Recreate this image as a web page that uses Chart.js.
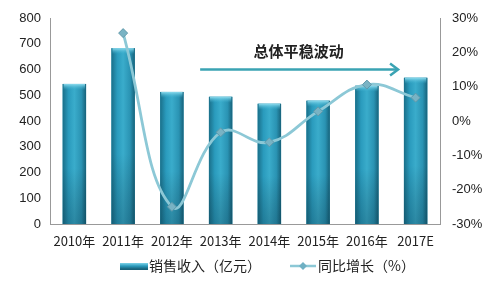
<!DOCTYPE html>
<html><head><meta charset="utf-8">
<script src="https://cdn.jsdelivr.net/npm/chart.js@4/dist/chart.umd.min.js"></script>
<style>html,body{margin:0;padding:0;background:#fff}#w{width:497px;height:289px}</style>
</head><body><div id="w"><canvas id="c" width="497" height="289"></canvas></div>
<script>
const categories = ['2010年','2011年','2012年','2013年','2014年','2015年','2016年','2017E'];
const revenue = [544, 683, 513, 494, 467, 479, 537, 568];
const growth = [null, 25.6, -25.0, -3.3, -6.2, 2.8, 10.6, 6.8];
const revenueLabel = '销售收入（亿元）';
const growthLabel = '同比增长（%）';
const leftTicks = [0,100,200,300,400,500,600,700,800];
const rightTicks = [-30,-20,-10,0,10,20,30];
const noteText = '总体平稳波动';

const FONT = "'Liberation Sans','Noto Sans CJK SC',sans-serif";
const CJK = "'Noto Sans CJK SC','Liberation Sans',sans-serif";

const barStyle = {
  id: 'barStyle',
  afterDatasetDraw(chart, args) {
    if (args.index !== 0) return;
    const ctx = chart.ctx;
    args.meta.data.forEach(el => {
      const x0 = el.x - el.width/2, x1 = el.x + el.width/2, top = el.y, bot = el.base;
      const g = ctx.createLinearGradient(x0, 0, x1, 0);
      g.addColorStop(0, '#1a6f89');
      g.addColorStop(0.25, '#2a9bbd');
      g.addColorStop(0.5, '#3aaccb');
      g.addColorStop(0.8, '#2a93b3');
      g.addColorStop(1, '#17627a');
      ctx.save();
      ctx.fillStyle = g;
      ctx.fillRect(x0, top, x1 - x0, bot - top);
      const v = ctx.createLinearGradient(0, top, 0, bot);
      v.addColorStop(0, 'rgba(0,0,0,0)');
      v.addColorStop(0.6, 'rgba(0,0,0,0)');
      v.addColorStop(1, 'rgba(0,30,45,0.25)');
      ctx.fillStyle = v;
      ctx.fillRect(x0, top, x1 - x0, bot - top);
      const cap = ctx.createLinearGradient(0, top, 0, top + 6);
      cap.addColorStop(0, '#8fdcee');
      cap.addColorStop(1, 'rgba(60,176,207,0)');
      ctx.fillStyle = cap;
      ctx.fillRect(x0 + 1, top, x1 - x0 - 2, 6);
      ctx.restore();
    });
  }
};

const annot = {
  id: 'annot',
  afterDraw(chart) {
    const ctx = chart.ctx, xs = chart.scales.x, ys = chart.scales.y;
    const xa = xs.getPixelForValue(2.58), xb = xs.getPixelForValue(6.64);
    const ya = ys.getPixelForValue(600);
    ctx.save();
    ctx.strokeStyle = '#3aa3b3';
    ctx.lineWidth = 2.5;
    ctx.beginPath(); ctx.moveTo(xa, ya); ctx.lineTo(xb, ya); ctx.stroke();
    ctx.beginPath(); ctx.moveTo(xb - 8, ya - 6); ctx.lineTo(xb, ya); ctx.lineTo(xb - 8, ya + 6); ctx.stroke();
    ctx.fillStyle = '#222';
    ctx.font = 'bold 15px ' + CJK;
    ctx.textAlign = 'center'; ctx.textBaseline = 'middle';
    ctx.fillText(noteText, xs.getPixelForValue(4.6), ys.getPixelForValue(670));
    // legend
    const ly = 266;
    ctx.font = '14px ' + CJK;
    ctx.textAlign = 'left';
    const bx = 120;
    const g = ctx.createLinearGradient(0, ly - 3, 0, ly + 3);
    g.addColorStop(0, '#7fd3e8'); g.addColorStop(0.5, '#2a9bbd'); g.addColorStop(1, '#17627a');
    ctx.fillStyle = g; ctx.fillRect(bx, ly - 3, 28, 7);
    ctx.fillStyle = '#222';
    ctx.fillText(chart.data.datasets[0].label, bx + 29, ly);
    const lx = 290;
    ctx.strokeStyle = '#8cc8d6'; ctx.lineWidth = 2.5;
    ctx.beginPath(); ctx.moveTo(lx, ly); ctx.lineTo(lx + 26, ly); ctx.stroke();
    ctx.fillStyle = '#6fb0c3';
    ctx.beginPath(); ctx.moveTo(lx + 13, ly - 4); ctx.lineTo(lx + 17, ly); ctx.lineTo(lx + 13, ly + 4); ctx.lineTo(lx + 9, ly); ctx.closePath(); ctx.fill();
    ctx.fillStyle = '#222';
    ctx.fillText(chart.data.datasets[1].label, lx + 28, ly);
    ctx.restore();
  }
};

new Chart(document.getElementById('c'), {
  data: {
    labels: categories,
    datasets: [
      { type: 'bar', label: revenueLabel, data: revenue, yAxisID: 'y', backgroundColor: '#2a9bbd', categoryPercentage: 1, barPercentage: 0.48, order: 2 },
      { type: 'line', label: growthLabel, data: growth, yAxisID: 'y1', borderColor: '#8cc8d6', borderWidth: 2.8, tension: 0.42, pointStyle: 'rectRot', pointRadius: 4.5, pointBackgroundColor: '#79b3c4', pointBorderColor: '#5f98aa', pointBorderWidth: 1, order: 1, spanGaps: false }
    ]
  },
  options: {
    responsive: false, animation: false,
    layout: { padding: { top: 18, bottom: 40, left: 0, right: 0 } },
    plugins: { legend: { display: false }, tooltip: { enabled: false } },
    scales: {
      x: {
        grid: { display: false, drawTicks: false },
        border: { color: '#999', width: 1 },
        ticks: { color: '#222', font: { family: CJK, size: 13 }, padding: 9, maxRotation: 0 },
        afterFit(s) { s.height = 25; }
      },
      y: {
        position: 'left', min: 0, max: 800,
        afterBuildTicks(s) { s.ticks = leftTicks.map(v => ({ value: v })); },
        grid: { display: false, drawTicks: false },
        border: { color: '#999', width: 1 },
        ticks: { color: '#222', font: { family: FONT, size: 13 }, padding: 9 },
        afterFit(s) { s.width = 50; }
      },
      y1: {
        position: 'right', min: -30, max: 30,
        afterBuildTicks(s) { s.ticks = rightTicks.map(v => ({ value: v })); },
        grid: { display: false, drawOnChartArea: false, drawTicks: true, tickLength: 6, color: '#999' },
        border: { color: '#999', width: 1 },
        ticks: { color: '#222', font: { family: FONT, size: 13 }, padding: 6, callback: v => v + '%' },
        afterFit(s) { s.width = 57; }
      }
    }
  },
  plugins: [barStyle, annot]
});
</script></body></html>
